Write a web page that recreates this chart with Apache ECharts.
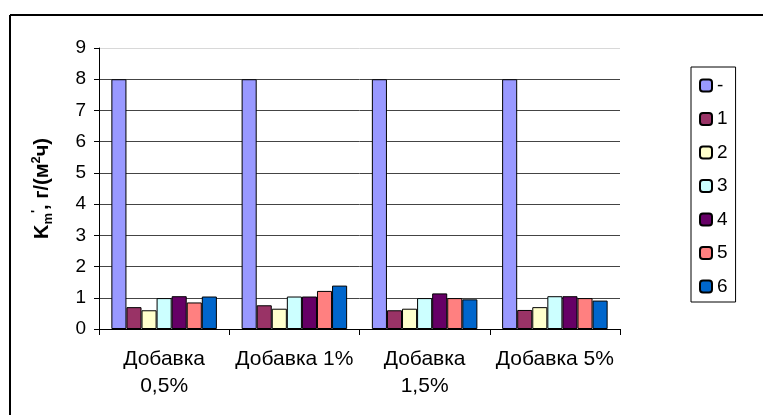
<!DOCTYPE html>
<html>
<head>
<meta charset="utf-8">
<script src="https://cdn.jsdelivr.net/npm/echarts@6/dist/echarts.min.js"></script>
<style>
  html, body { margin: 0; padding: 0; background: #fff; }
  #chart { width: 763px; height: 415px; }
</style>
</head>
<body>
<div id="chart"></div>
<script>
// categories and series values
const categories = ["Добавка\n0,5%", "Добавка 1%", "Добавка\n1,5%", "Добавка 5%"];
const seriesNames = ["-", "1", "2", "3", "4", "5", "6"];
const seriesColors = ["#9999FF", "#993366", "#FFFFCC", "#CCFFFF", "#660066", "#FF8080", "#0066CC"];
const valuesDash = [8, 8, 8, 8];
const values1 = [0.70, 0.76, 0.60, 0.61];
const values2 = [0.60, 0.65, 0.65, 0.70];
const values3 = [0.99, 1.04, 0.99, 1.05];
const values4 = [1.05, 1.04, 1.14, 1.05];
const values5 = [0.85, 1.22, 0.99, 0.99];
const values6 = [1.04, 1.39, 0.95, 0.91];
const yTicks = [0, 1, 2, 3, 4, 5, 6, 7, 8, 9];

const allValues = [valuesDash, values1, values2, values3, values4, values5, values6];
const font = "Liberation Sans, Arial, sans-serif";

const chart = echarts.init(document.getElementById("chart"));

// gridlines dark, the top one light grey like the plot-area edge
const splitColors = yTicks.map((t, i) => (i === yTicks.length - 1 ? "#d8d8d8" : "#444"));

const option = {
  animation: false,
  backgroundColor: "#fff",
  textStyle: { fontFamily: font },
  grid: { left: 99, right: 143, top: 48, bottom: 86 },
  legend: {
    orient: "vertical",
    left: 691,
    top: 67,
    padding: [9, 8, 6, 8],
    borderColor: "#000",
    borderWidth: 1,
    itemWidth: 12,
    itemHeight: 12,
    itemGap: 14.5,
    textStyle: { fontSize: 19, color: "#000", fontFamily: font },
    data: seriesNames,
  },
  xAxis: {
    type: "category",
    data: categories,
    axisLine: { lineStyle: { color: "#000", width: 1 } },
    axisTick: { show: true, length: 6, lineStyle: { color: "#000" } },
    axisLabel: {
      interval: 0,
      fontSize: 21,
      color: "#000",
      lineHeight: 27,
      margin: 17,
      fontFamily: font,
    },
  },
  yAxis: {
    type: "value",
    min: 0,
    max: 9,
    interval: 1,
    name: "{b|K}{sub|m}{sup|'}{b|, г/(м}{sup|2}{b|ч)}",
    nameLocation: "middle",
    nameRotate: 90,
    nameGap: 44,
    nameTextStyle: {
      rich: {
        b: { fontSize: 20, fontWeight: "bold", color: "#000", fontFamily: font, lineHeight: 25 },
        sub: { fontSize: 13, fontWeight: "bold", color: "#000", fontFamily: font, verticalAlign: "bottom", lineHeight: 25 },
        sup: { fontSize: 13, fontWeight: "bold", color: "#000", fontFamily: font, verticalAlign: "top", lineHeight: 25 },
      },
    },
    axisLine: { show: true, lineStyle: { color: "#000", width: 1 } },
    axisTick: { show: true, length: 5, lineStyle: { color: "#000" } },
    axisLabel: { fontSize: 19, color: "#000", margin: 13, fontFamily: font },
    splitLine: { show: true, lineStyle: { color: splitColors, width: 1 } },
  },
  graphic: [
    { type: "line", shape: { x1: 10, y1: 15, x2: 763, y2: 15 }, style: { stroke: "#000", lineWidth: 2 } },
    { type: "line", shape: { x1: 10, y1: 15, x2: 10, y2: 415 }, style: { stroke: "#000", lineWidth: 2 } },
  ],
  series: seriesNames.map((name, i) => ({
    name: name,
    type: "bar",
    data: allValues[i],
    barGap: "0%",
    barCategoryGap: "19%",
    itemStyle: { color: seriesColors[i], borderColor: "#000", borderWidth: 1 },
  })),
};

chart.setOption(option);
</script>
</body>
</html>
